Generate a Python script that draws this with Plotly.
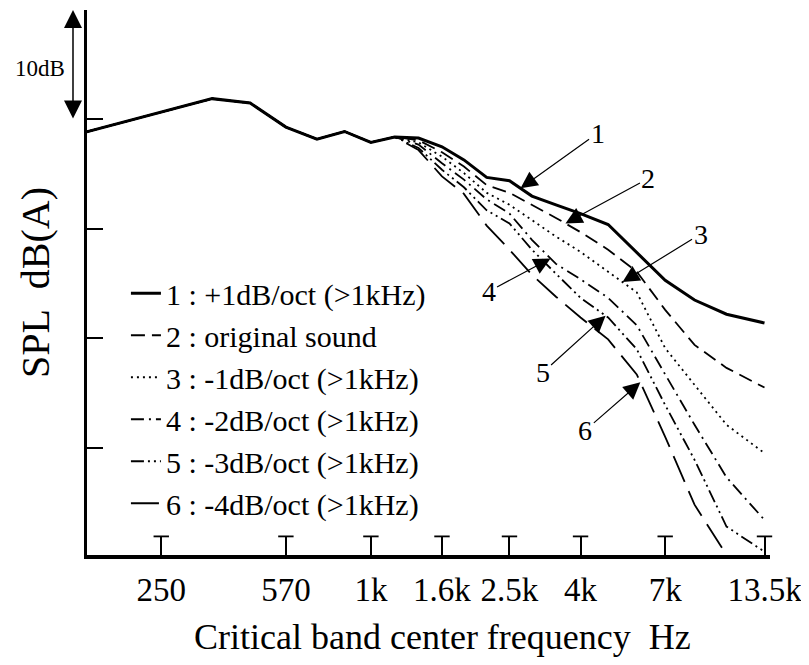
import numpy as np
import plotly.graph_objects as go

# Critical band center frequencies (Hz)
freq_common = [150, 250, 350, 450, 570, 700, 840, 1000, 1170]
spl_common = [38.8, 40.7, 41.9, 41.5, 39.3, 38.2, 38.9, 37.9, 38.4]

freq_high = [1370, 1600, 1850, 2150, 2500, 2900, 3400, 4000, 4800, 5800, 7000, 8500, 10500, 13500]
spl_1 = [38.3, 37.5, 36.3, 34.7, 34.4, 33.0, 32.2, 31.4, 30.4, 27.8, 25.3, 23.5, 22.2, 21.4]
spl_2 = [38.1, 37.0, 35.7, 34.0, 33.3, 32.2, 31.0, 29.7, 28.1, 26.1, 22.6, 19.4, 17.3, 15.5]
spl_3 = [37.9, 36.6, 35.1, 33.3, 32.2, 30.8, 29.3, 27.9, 26.1, 24.2, 19.1, 15.8, 12.1, 9.5]
spl_4 = [37.7, 36.0, 34.5, 32.7, 31.4, 29.0, 26.8, 25.4, 23.7, 21.2, 16.7, 12.1, 7.3, 3.4]
spl_5 = [37.4, 35.4, 33.8, 31.7, 30.5, 28.1, 25.9, 23.7, 21.9, 19.0, 13.9, 8.9, 2.8, 0.5]
spl_6 = [37.2, 34.8, 33.2, 30.3, 28.1, 25.8, 23.8, 21.9, 19.9, 16.7, 11.0, 4.8, 0.2, None]

series_names = [
    "1 : +1dB/oct (>1kHz)",
    "2 : original sound",
    "3 : -1dB/oct (>1kHz)",
    "4 : -2dB/oct (>1kHz)",
    "5 : -3dB/oct (>1kHz)",
    "6 : -4dB/oct (>1kHz)",
]
series_values = [spl_1, spl_2, spl_3, spl_4, spl_5, spl_6]

tick_vals = [250, 570, 1000, 1600, 2500, 4000, 7000, 13500]
tick_text = ["250", "570", "1k", "1.6k", "2.5k", "4k", "7k", "13.5k"]
y_ticks = [10, 20, 30, 40, 50]

# frequency at each label's arrow tip
label_tip_freq = [2690, 3620, 5280, 3280, 4720, 5940]

FONT = "Liberation Serif"
dashes = ["solid", "14px,7px", "2px,4px", "13px,5px,2px,5px", "13px,4px,2px,4px,2px,4px", "28px,10px"]
widths = [3, 1.8, 1.8, 1.8, 1.8, 1.8]

fig = go.Figure()
for i, (name, vals) in enumerate(zip(series_names, series_values)):
    fig.add_trace(go.Scatter(
        x=freq_common + freq_high,
        y=spl_common + vals,
        mode="lines",
        name=name,
        line=dict(color="black", width=widths[i], dash=dashes[i]),
        connectgaps=False,
    ))

# T caps on x ticks
fig.add_trace(go.Scatter(
    x=tick_vals, y=[1.9] * len(tick_vals), mode="markers",
    marker=dict(symbol="line-ew", size=11, line=dict(color="black", width=1.8)),
    showlegend=False, hoverinfo="skip", cliponaxis=False,
))

# arrow annotations
offsets = [(77, -55), (83, -45), (78, -48), (-62, 33), (-63, 57), (-55, 48)]
xs = np.log10(freq_common + freq_high)
for i, (f, vals) in enumerate(zip(label_tip_freq, series_values)):
    ys = np.array([v if v is not None else np.nan for v in spl_common + vals], dtype=float)
    yt = float(np.interp(np.log10(f), xs, ys))
    fig.add_annotation(
        x=np.log10(f), y=yt, xref="x", yref="y",
        text=str(i + 1), showarrow=True,
        ax=offsets[i][0], ay=offsets[i][1], axref="pixel", ayref="pixel",
        arrowhead=2, arrowsize=2.8, arrowwidth=1.2, arrowcolor="black",
        font=dict(family=FONT, size=28, color="black"),
    )

# 10dB scale arrow
fig.add_annotation(
    x=-0.0205, y=50, xref="paper", yref="y", text="", showarrow=True,
    ax=0, ay=110, axref="pixel", ayref="pixel",
    arrowhead=2, startarrowhead=2, arrowside="end+start", arrowsize=2.4, startarrowsize=2.4,
    arrowwidth=1.5, arrowcolor="black",
)
fig.add_annotation(
    x=-0.069, y=44.7, xref="paper", yref="y", text="10dB", showarrow=False,
    xanchor="center", yanchor="middle",
    font=dict(family=FONT, size=23, color="black"),
)

# x-axis title
fig.add_annotation(
    x=0.52, y=-0.15, xref="paper", yref="paper", showarrow=False,
    text="Critical band center frequency\u00a0\u00a0Hz",
    xanchor="center", yanchor="middle",
    font=dict(family=FONT, size=36, color="black"),
)

fig.update_layout(
    width=801, height=657,
    margin=dict(l=79, r=39, t=2, b=110),
    paper_bgcolor="white", plot_bgcolor="white",
    font=dict(family=FONT, color="black"),
    showlegend=True,
    legend=dict(
        x=0.057, y=0.528, xanchor="left", yanchor="top",
        font=dict(family=FONT, size=30, color="black"),
        bgcolor="rgba(0,0,0,0)",
    ),
    xaxis=dict(
        type="log", range=[np.log10(153), np.log10(14000)],
        tickvals=tick_vals, ticktext=tick_text,
        ticks="inside", ticklen=18, tickwidth=1.8, tickcolor="black",
        showline=True, linewidth=4, linecolor="black", showgrid=False, zeroline=False,
        tickfont=dict(family=FONT, size=33, color="black"),
        ticklabelstandoff=2,
    ),
    yaxis=dict(
        range=[0.2, 50], tickvals=y_ticks, showticklabels=False,
        ticks="inside", ticklen=16, tickwidth=2, tickcolor="black",
        showline=True, linewidth=3, linecolor="black", showgrid=False, zeroline=False,
        title=dict(text="SPL\u00a0\u00a0dB(A)", font=dict(family=FONT, size=40, color="black"), standoff=23),
    ),
)

fig.write_html("out.html")
